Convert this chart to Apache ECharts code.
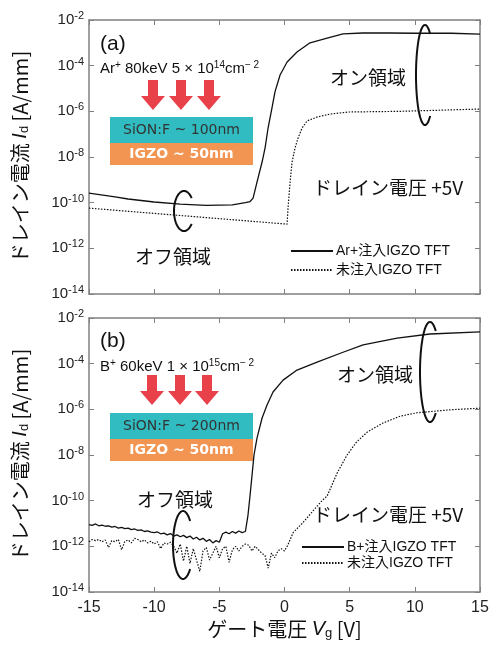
<!DOCTYPE html>
<html><head><meta charset="utf-8">
<script src="https://cdn.jsdelivr.net/npm/echarts@6/dist/echarts.min.js"></script>
<style>html,body{margin:0;padding:0;background:#fff}#c{width:498px;height:646px}</style>
</head><body><div id="c"></div>
<script>
// ---- Data (gate voltage [V], log10 of drain current [A/mm]) ----
const xMin = -15, xMax = 15, xStep = 5;
const yMinExp = -14, yMaxExp = -2, yStepExp = 2;

// Panel (a): Ar+ implanted
const vgA_ar = [-15, -13, -12, -10, -8, -6, -4, -3, -2.64, -2.41, -2.11, -1.72, -1.49, -1.26, -0.96, -0.73, -0.34, 0.2, 0.96, 1.96, 3.27, 4.49, 6, 8, 10, 12.8, 12.9, 15];
const logA_ar = [-9.58, -9.75, -9.84, -9.97, -10.06, -10.12, -10.1, -10.0, -9.95, -9.8, -9.1, -8.22, -7.6, -6.73, -5.85, -5.15, -4.41, -3.84, -3.40, -3.0, -2.79, -2.61, -2.57, -2.57, -2.58, -2.58, -2.62, -2.62];
// Panel (a): unimplanted
const vgA_un = [-15, -10, -5, 0.2, 0.27, 0.43, 0.58, 0.81, 1.04, 1.35, 1.73, 2.5, 3.5, 4.88, 8.87, 15];
const logA_un = [-10.24, -10.47, -10.7, -10.94, -10.24, -9.1, -8.22, -7.6, -7.17, -6.73, -6.42, -6.25, -6.12, -6.03, -6.0, -5.9];

// Panel (b): B+ implanted
const vgB_b = [-15, -14.75, -14.5, -14.25, -14, -13.75, -13.5, -13.25, -13, -12.75, -12.5, -12.25, -12, -11.75, -11.5, -11.25, -11, -10.75, -10.5, -10.25, -10, -9.75, -9.5, -9.25, -9, -8.75, -8.5, -8.25, -8, -7.75, -7.5, -7.25, -7, -6.75, -6.5, -6.25, -6, -5.75, -5.5, -5.25, -5, -4.75, -4.5, -4.25, -4, -3.75, -3.5, -3.25, -3, -2.87, -2.8, -2.64, -2.49, -2.34, -2.11, -1.72, -1.34, -0.88, -0.11, 0.96, 2.5, 4.49, 6.03, 8.64, 11.17, 15];
const logB_b = [-11.05, -11.08, -11.02, -11.1, -11.07, -11.12, -11.1, -11.16, -11.13, -11.2, -11.17, -11.22, -11.2, -11.27, -11.24, -11.3, -11.28, -11.35, -11.32, -11.38, -11.4, -11.37, -11.45, -11.42, -11.5, -11.44, -11.55, -11.5, -11.58, -11.52, -11.62, -11.55, -11.68, -11.6, -11.72, -11.65, -11.78, -11.7, -11.85, -11.75, -11.82, -11.45, -11.38, -11.45, -11.35, -11.42, -11.33, -11.4, -11.35, -11.3, -10.63, -9.75, -8.88, -8.0, -7.26, -6.38, -5.81, -5.24, -4.72, -4.28, -3.93, -3.5, -3.18, -2.88, -2.7, -2.61];
// Panel (b): unimplanted
const vgB_un = [-15, -14.75, -14.5, -14.25, -14, -13.75, -13.5, -13.25, -13, -12.75, -12.5, -12.25, -12, -11.75, -11.5, -11.25, -11, -10.75, -10.5, -10.25, -10, -9.75, -9.5, -9.25, -9, -8.75, -8.5, -8.25, -8, -7.75, -7.5, -7.25, -7, -6.75, -6.5, -6.25, -6, -5.75, -5.5, -5.25, -5, -4.75, -4.5, -4.25, -4, -3.75, -3.5, -3.25, -3, -2.75, -2.5, -2.25, -2, -1.75, -1.5, -1.25, -1, -0.75, -0.5, -0.25, 0, 0.25, 0.66, 1.35, 2.11, 2.88, 3.27, 4.03, 4.8, 5.5, 6.34, 7.56, 8.87, 10.17, 11.17, 12.7, 15];
const logB_un = [-11.8, -11.7, -11.75, -11.7, -11.8, -11.72, -12.05, -11.75, -11.8, -11.7, -12.15, -11.78, -11.72, -11.85, -11.65, -11.7, -11.8, -11.72, -11.85, -11.78, -11.9, -11.8, -12.1, -11.85, -11.9, -11.82, -12.0, -12.3, -11.9, -12.65, -12.0, -12.75, -12.1, -12.6, -13.1, -12.2, -12.05, -12.6, -12.3, -12.0, -12.5, -12.1, -12.0, -12.7, -12.15, -12.0, -12.2, -12.0, -11.9, -11.95, -12.2, -12.0, -12.15, -12.3, -12.4, -12.95, -12.3, -12.5, -12.2, -12.1, -12.2, -11.95, -11.4, -11.0, -10.5, -10.0, -9.8, -8.8, -8.0, -7.45, -7.0, -6.6, -6.3, -6.15, -6.1, -6.02, -5.95];

const legendA = ['Ar+注入IGZO TFT', '未注入IGZO TFT'];
const legendB = ['B+注入IGZO TFT', '未注入IGZO TFT'];

// ---- Layout / style ----
const FONT = '"Liberation Sans", "Noto Sans CJK JP", sans-serif';
const CJK = '"Noto Sans CJK JP", "Liberation Sans", sans-serif';
const AX = '#808080';
const toPts = (xs, ls) => xs.map((x, i) => [x, Math.pow(10, ls[i])]);
const grids = [
  {left: 89, top: 20, width: 391, height: 274},
  {left: 89, top: 318, width: 391, height: 274}
];
function xAx(g, pos, labels) {
  return {type: 'value', gridIndex: g, position: pos, min: xMin, max: xMax, interval: xStep,
    axisLine: {show: true, onZero: false, lineStyle: {color: AX, width: 1.5}},
    axisTick: {show: true, inside: true, length: 5, lineStyle: {color: AX}},
    axisLabel: {show: labels, margin: 8, fontSize: 16, color: '#222', fontFamily: FONT},
    splitLine: {show: false}};
}
function yAx(g, pos, labels) {
  const o = {type: 'log', logBase: 10, gridIndex: g, position: pos, min: Math.pow(10, yMinExp), max: Math.pow(10, yMaxExp),
    interval: yStepExp,
    axisLine: {show: true, onZero: false, lineStyle: {color: AX, width: 1.5}},
    axisTick: {show: true, inside: true, length: 5, lineStyle: {color: AX}},
    minorTick: {show: false},
    axisLabel: {show: labels, margin: 5, color: '#222', fontFamily: FONT,
      formatter: v => '{b|10}{s|' + Math.round(Math.log10(v)) + '}',
      rich: {b: {fontSize: 15, fontFamily: FONT, color: '#222'}, s: {fontSize: 11, fontFamily: FONT, color: '#222', verticalAlign: 'top', padding: [0, 0, 8, 0]}}},
    splitLine: {show: false}};
  if (labels) {
    o.name = '{t|ドレイン電流 }{i|I}{d|d}{t| [A/mm]}';
    o.nameLocation = 'middle';
    o.nameRotate = 90;
    o.nameGap = 58;
    o.nameTextStyle = {rich: {
      t: {fontSize: 20, fontFamily: CJK, color: '#111'},
      i: {fontSize: 20, fontFamily: FONT, fontStyle: 'italic', color: '#111'},
      d: {fontSize: 13, fontFamily: FONT, color: '#111', padding: [8, 0, 0, 0]}}};
  }
  return o;
}

const lineS = (name, xi, yi, data, dotted) => ({
  name, type: 'line', xAxisIndex: xi, yAxisIndex: yi, data, showSymbol: false, symbol: 'none',
  lineStyle: {color: '#111', width: dotted ? 1.2 : 1.3, type: dotted ? [1.5, 1.5] : 'solid'},
  itemStyle: {color: '#111'}, animation: false
});

function arrow(cx, y0) {
  return {type: 'polygon', shape: {points: [[cx - 5, y0], [cx + 5, y0], [cx + 5, y0 + 16], [cx + 12, y0 + 16], [cx, y0 + 30], [cx - 12, y0 + 16], [cx - 5, y0 + 16]]},
    style: {fill: '#e8414a'}};
}
// decorative open ellipse ("C" shape) annotation
function cshape(cx, cy, rx, ry, ang) {
  const pts = [];
  for (let d = ang; d <= 360 - ang; d += 5) {
    const a = d * Math.PI / 180;
    pts.push([cx + rx * Math.cos(a), cy - ry * Math.sin(a)]);
  }
  return {type: 'polyline', shape: {points: pts, smooth: 0.3}, style: {fill: null, stroke: '#111', lineWidth: 2}};
}
function txt(x, y, text, size, extra) {
  return {type: 'text', x, y, style: Object.assign({text, fontSize: size, fontFamily: CJK, fill: '#111', verticalAlign: 'middle'}, extra || {})};
}
function stack(top, nm) {
  return [
    {type: 'rect', shape: {x: 110, y: top, width: 143, height: 26}, style: {fill: '#30bcc1'}},
    {type: 'rect', shape: {x: 110, y: top + 26, width: 143, height: 22}, style: {fill: '#f39552'}},
    {type: 'text', x: 181.5, y: top + 13, style: {text: 'SiON:F ~ ' + nm, fontSize: 14, fontFamily: '"DejaVu Sans", sans-serif', fill: '#333', align: 'center', verticalAlign: 'middle'}},
    {type: 'text', x: 181.5, y: top + 37, style: {text: 'IGZO ~ 50nm', fontSize: 14, fontWeight: 'bold', fontFamily: '"DejaVu Sans", sans-serif', fill: '#fff', align: 'center', verticalAlign: 'middle'}}
  ];
}
function ionText(x, y, parts) {
  return {type: 'text', x, y, style: {text: parts, fontFamily: FONT, fill: '#111', verticalAlign: 'middle',
    rich: {n: {fontSize: 15, fontFamily: FONT, fill: '#111'}, s: {fontSize: 10, fontFamily: FONT, fill: '#111', verticalAlign: 'top', padding: [0, 0, 7, 0]}}}};
}

const graphics = [
  txt(100, 44, '(a)', 21, {fontFamily: FONT}),
  txt(100, 341, '(b)', 21, {fontFamily: FONT}),
  ionText(100, 69, '{n|Ar}{s|+}{n| 80keV 5 × 10}{s|14}{n|cm}{s|− 2}'),
  ionText(100, 367, '{n|B}{s|+}{n| 60keV 1 × 10}{s|15}{n|cm}{s|− 2}'),
  arrow(153, 80), arrow(181, 80), arrow(209, 80),
  arrow(152, 375), arrow(180, 375), arrow(207, 375),
  ...stack(117, '100nm'),
  ...stack(413, '200nm'),
  cshape(184, 211, 10, 20, 40),
  cshape(183, 545, 10, 34, 45),
  cshape(425, 75, 9, 50, 55),
  cshape(430, 372, 10, 50, 55),
  txt(135, 257, 'オフ領域', 19),
  txt(137, 500, 'オフ領域', 19),
  txt(330, 78, 'オン領域', 19),
  txt(337, 375, 'オン領域', 19),
  txt(313, 188, 'ドレイン電圧 +5V', 19),
  txt(313, 515, 'ドレイン電圧 +5V', 19),
  {type: 'text', x: 284.5, y: 629, style: {text: '{t|ゲート電圧 }{i|V}{g|g}{t| [V]}', align: 'center', verticalAlign: 'middle',
    rich: {t: {fontSize: 20, fontFamily: CJK, fill: '#111'}, i: {fontSize: 20, fontFamily: FONT, fontStyle: 'italic', fill: '#111'}, g: {fontSize: 13, fontFamily: FONT, fill: '#111', padding: [9, 0, 0, 0]}}}}
];

const chart = echarts.init(document.getElementById('c'), null, {renderer: 'canvas'});
chart.setOption({
  animation: false,
  backgroundColor: '#fff',
  grid: grids,
  xAxis: [xAx(0, 'bottom', false), xAx(0, 'top', false), xAx(1, 'bottom', true), xAx(1, 'top', false)],
  yAxis: [yAx(0, 'left', true), yAx(0, 'right', false), yAx(1, 'left', true), yAx(1, 'right', false)],
  legend: [
    {data: legendA, left: 285, top: 239, orient: 'vertical', itemWidth: 42, itemHeight: 12, itemGap: 5,
      itemStyle: {opacity: 0},
      textStyle: {fontSize: 14, fontFamily: FONT, color: '#111', padding: [0, 0, 0, -2]}},
    {data: legendB, left: 296, top: 535, orient: 'vertical', itemWidth: 42, itemHeight: 12, itemGap: 2,
      itemStyle: {opacity: 0},
      textStyle: {fontSize: 14, fontFamily: FONT, color: '#111', padding: [0, 0, 0, -2]}}
  ],
  series: [
    lineS(legendA[0], 0, 0, toPts(vgA_ar, logA_ar), false),
    lineS(legendA[1], 0, 0, toPts(vgA_un, logA_un), true),
    lineS(legendB[0], 2, 2, toPts(vgB_b, logB_b), false),
    lineS(legendB[1], 2, 2, toPts(vgB_un, logB_un), true)
  ],
  graphic: graphics
});
</script></body></html>
